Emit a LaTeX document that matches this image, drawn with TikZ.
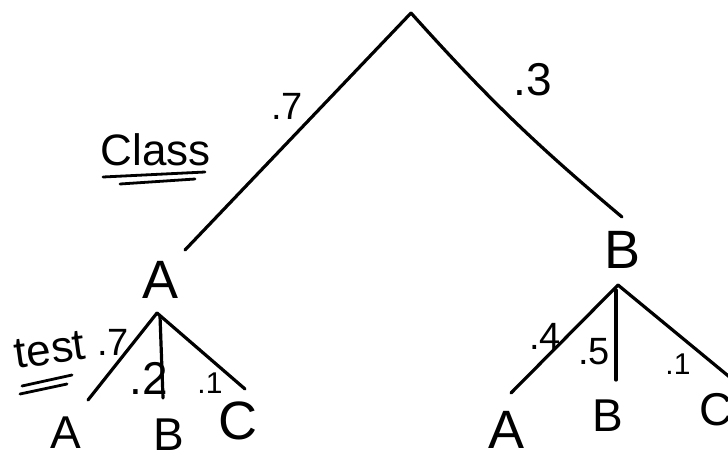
\documentclass[tikz,border=0pt]{standalone}
\usepackage{fontspec}
\setmainfont{Liberation Sans}
\begin{document}
\begin{tikzpicture}[x=1pt,y=-1pt,
  edge/.style={line width=3.2pt,line cap=round,line join=round},
  uline/.style={line width=2.8pt,line cap=round},
  bigl/.style={inner sep=0pt,font=\fontsize{54}{58}\selectfont},
  midl/.style={inner sep=0pt,font=\fontsize{46}{50}\selectfont},
  prob/.style={inner sep=0pt,font=\fontsize{38}{42}\selectfont},
  probl/.style={inner sep=0pt,font=\fontsize{46}{50}\selectfont},
  probs/.style={inner sep=0pt,font=\fontsize{30}{34}\selectfont},
  word/.style={inner sep=0pt,font=\fontsize{44}{48}\selectfont}]
\useasboundingbox[fill=white] (0,0) rectangle (728,456);
% top level
\coordinate (root) at (411,13);
\coordinate (cA) at (185,250);
\coordinate (cB) at (622,217);
\draw[edge] (root) -- (cA);
\draw[edge] (root) to[bend right=4] (cB);
\node[prob] (p7) at (287,106) {.7};
\node[probl] (p3) at (533,80) {.3};
\node[word] (class) at (156,150) {Class};
\coordinate (u1a) at (103,177); \coordinate (u1b) at (205,172);
\coordinate (u2a) at (120,184); \coordinate (u2b) at (195,179);
\draw[uline] (u1a) -- (u1b);
\draw[uline] (u2a) -- (u2b);
% class A
\node[bigl] (A) at (161,280) {A};
\coordinate (aA) at (157,313);
\coordinate (aAl) at (88,400);
\coordinate (aAm0) at (160,316);
\coordinate (aAm) at (163,398);
\coordinate (aAr) at (245,389);
\draw[edge] (aA) -- (aAl);
\draw[edge] (aAm0) -- (aAm);
\draw[edge] (aA) -- (aAr);
\node[word,rotate=8] (test) at (50,350) {test};
\coordinate (t1a) at (22,386); \coordinate (t1b) at (72,375);
\coordinate (t2a) at (20,394); \coordinate (t2b) at (67,384);
\draw[uline] (t1a) -- (t1b);
\draw[uline] (t2a) -- (t2b);
\node[prob] (q7) at (113,342) {.7};
\node[probl] (q2) at (149,378) {.2};
\node[probs] (q1) at (210,383) {.1};
\node[midl] (AA) at (66,433) {A};
\node[midl] (AB) at (169,435) {B};
\node[bigl] (AC) at (238,421) {C};
% class B
\node[bigl] (B) at (623,250) {B};
\coordinate (bB) at (618,285);
\coordinate (bBl) at (511,393);
\coordinate (bBm0) at (616,290);
\coordinate (bBm) at (616,380);
\coordinate (bBr) at (732,379);
\draw[edge] (bB) -- (bBl);
\draw[edge] (bBm0) -- (bBm);
\draw[edge] (bB) -- (bBr);
\node[prob] (r4) at (545,336) {.4};
\node[prob] (r5) at (594,352) {.5};
\node[probs] (r1) at (678,364) {.1};
\node[bigl] (BA) at (507,430) {A};
\node[midl] (BB) at (608,416) {B};
\node[midl] (BC) at (716,410) {C};
\end{tikzpicture}
\end{document}
